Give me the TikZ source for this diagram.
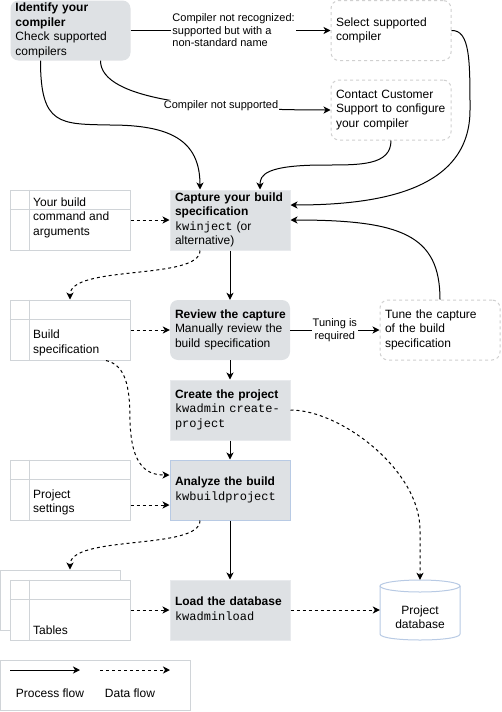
\documentclass[tikz,border=0pt]{standalone}
\usepackage{fontspec}
\setmainfont{Liberation Sans}
\newfontfamily\monof{Liberation Mono}
\usetikzlibrary{arrows.meta,calc}
\definecolor{boxgray}{RGB}{222,225,228}
\definecolor{boxedge}{RGB}{232,234,237}
\definecolor{tblgray}{RGB}{208,212,216}
\definecolor{dashgray}{RGB}{208,208,208}
\definecolor{blueedge}{RGB}{184,202,228}
\newcommand\fsA{\fontsize{12pt}{14.5pt}\selectfont}
\newcommand\fsB{\fontsize{11pt}{12.5pt}\selectfont}
\newcommand\boxlines[1]{\begin{tabular}{@{}l@{}}#1\end{tabular}}
\tikzset{
  box/.style={rectangle, minimum width=120pt, minimum height=60pt, inner xsep=5pt, inner ysep=0pt, text width=110pt, align=left, font=\fsA},
  procround/.style={box, fill=boxgray, rounded corners=8pt},
  procsq/.style={box, fill=boxgray, draw=boxedge, line width=1pt},
  procblue/.style={box, fill=boxgray, draw=blueedge, line width=1pt},
  optbox/.style={box, draw=dashgray, line width=1pt, dash pattern=on 3pt off 3pt, rounded corners=8pt},
  tbl/.style={rectangle, minimum width=120pt, minimum height=60pt, draw=tblgray, fill=white, line width=1pt},
  tblline/.style={draw=tblgray, line width=1pt},
  tbltext/.style={anchor=west, align=left, font=\fsA, inner sep=0pt},
  flow/.style={draw=black, line width=1pt, -{Stealth[length=7pt,width=7pt,inset=2pt]}},
  dflow/.style={flow, dash pattern=on 3pt off 3pt},
  elabel/.style={fill=white, inner sep=1pt, align=left, font=\fsB},
  elabelc/.style={fill=white, inner sep=1pt, align=center, font=\fsB},
}
\begin{document}
\begin{tikzpicture}[x=1pt,y=-1pt]
\useasboundingbox (0,0) rectangle (501,712);

% process nodes
\node[procround] (ident) at (70.5,30.5) {\boxlines{\textbf{Identify your}\\\textbf{compiler}\\Check supported\\compilers}};
\node[optbox] (select) at (391,30.5) {\boxlines{Select supported\\compiler}};
\node[optbox] (contact) at (391,110) {\boxlines{Contact Customer\\Support to configure\\your compiler}};
\node[procsq] (capture) at (230,220) {\boxlines{\textbf{Capture your build}\\\textbf{specification}\\{\monof kwinject} (or\\alternative)}};
\node[procround] (review) at (230,330) {\boxlines{\textbf{Review the capture}\\Manually review the\\build specification}};
\node[optbox] (tune) at (440,330) {\boxlines{Tune the capture\\of the build\\specification}};
\node[procsq] (create) at (230,410) {\boxlines{\textbf{Create the project}\\{\monof kwadmin create-}\\{\monof project}}};
\node[procblue] (analyze) at (230,490) {\boxlines{\textbf{Analyze the build}\\{\monof kwbuildproject}}};
\node[procsq] (load) at (230,610) {\boxlines{\textbf{Load the database}\\{\monof kwadminload}}};

% data tables
\node[tbl] (yb) at (70,220) {};
\draw[tblline] ($(yb.north west)+(20,0)$) -- ($(yb.south west)+(20,0)$);
\draw[tblline] ($(yb.north west)+(0,20)$) -- ($(yb.north east)+(0,20)$);
\node[tbltext] (ybtxt) at (33,217.5) {Your build\\command and\\arguments};

\node[tbl] (bs) at (70,330) {};
\draw[tblline] ($(bs.north west)+(20,0)$) -- ($(bs.south west)+(20,0)$);
\draw[tblline] ($(bs.north west)+(0,20)$) -- ($(bs.north east)+(0,20)$);
\node[tbltext] (bstxt) at (33,343) {Build\\specification};

\node[tbl] (ps) at (70,490) {};
\draw[tblline] ($(ps.north west)+(20,0)$) -- ($(ps.south west)+(20,0)$);
\draw[tblline] ($(ps.north west)+(0,20)$) -- ($(ps.north east)+(0,20)$);
\node[tbltext] (pstxt) at (33,502.5) {Project\\settings};

\node[tbl] (tablesback) at (60,600) {};
\node[tbl] (tables) at (70,610) {};
\draw[tblline] ($(tables.north west)+(20,0)$) -- ($(tables.south west)+(20,0)$);
\draw[tblline] ($(tables.north west)+(0,20)$) -- ($(tables.north east)+(0,20)$);
\node[tbltext] (tbtxt) at (33,630) {Tables};

% database cylinder
\node[rectangle, minimum width=80pt, minimum height=60pt, inner sep=0pt] (db) at (420,610) {};
\path[fill=white] (380,586) -- (380,634) .. controls (380,642) and (460,642) .. (460,634) -- (460,586) -- cycle;
\draw[draw=blueedge, line width=1pt] (380,586) -- (380,634) .. controls (380,642) and (460,642) .. (460,634) -- (460,586);
\draw[draw=blueedge, line width=1pt, fill=white] (420,586) ellipse [x radius=40pt, y radius=6pt];
\node[align=center, font=\fsA, inner sep=0pt] (dbtxt) at (420,617) {Project\\database};

% waypoints
\coordinate (k1) at (110,125);
\coordinate (k2) at (325,165);
\coordinate (k3) at (470,110);
\coordinate (k4) at (130,420);
\coordinate (k5) at (420,530);
\coordinate (tablestop) at ($(tablesback.north)+(10,0)$);

% process flow
\draw[flow] (ident.east) -- node[elabel, xshift=3pt] {Compiler not recognized:\\supported but with a\\non-standard name} (select.west);
\draw[flow] ($(ident.south)+(30,0)$) .. controls +(0,40) and +(-120,0) .. (contact.west);
\node[elabel] (lbl2) at (221,106) {Compiler not supported};
\draw[flow] ($(ident.south)+(-30,0)$) .. controls +(0,65) and (60,124) .. (k1) .. controls (170,125) and (200,140) .. ($(capture.north)+(-30,0)$);
\draw[flow] (contact.south) .. controls +(0,25) and (360,165) .. (k2) .. controls (265,165) and (260,175) .. ($(capture.north)+(30,0)$);
\draw[flow] (select.east) .. controls (470,30) and (470,60) .. (k3) .. controls (470,190) and (380,205) .. ($(capture.east)+(0,-15)$);
\draw[flow] (tune.north) .. controls +(0,-65) and +(110,0) .. (capture.east);
\draw[flow] (capture.south) -- (review.north);
\draw[flow] (review.east) -- node[elabelc] {Tuning is\\required} (tune.west);
\draw[flow] (review.south) -- (create.north);
\draw[flow] (create.south) -- (analyze.north);
\draw[flow] (analyze.south) -- (load.north);

% data flow
\draw[dflow] (yb.east) -- (capture.west);
\draw[dflow] ($(capture.south)+(-30,0)$) .. controls +(0,30) and +(0,-35) .. (bs.north);
\draw[dflow] (bs.east) -- (review.west);
\draw[dflow] ($(bs.south)+(36,0)$) .. controls (125,365) and (130,385) .. (k4) .. controls (131,470) and (150,475) .. ($(analyze.west)+(0,-15)$);
\draw[dflow] ($(ps.east)+(0,15)$) -- ($(analyze.west)+(0,15)$);
\draw[dflow] (create.east) .. controls +(50,0) and (420,470) .. (k5) -- (db.north);
\draw[dflow] ($(analyze.south)+(-30,0)$) .. controls +(0,30) and +(0,-35) .. (tablestop);
\draw[dflow] (tables.east) -- (load.west);
\draw[dflow] (load.east) -- (db.west);

% legend
\node[rectangle, draw=tblgray, line width=1pt, minimum width=190pt, minimum height=50pt, inner sep=0pt] (legend) at (95,685) {};
\coordinate (la) at (10,670);
\coordinate (lb) at (80,670);
\coordinate (lc) at (100,670);
\coordinate (ld) at (170,670);
\draw[flow] (la) -- (lb);
\draw[dflow] (lc) -- (ld);
\node[font=\fsA, inner sep=0pt] (ltxt1) at (50,693) {Process flow};
\node[font=\fsA, inner sep=0pt] (ltxt2) at (130,693) {Data flow};
\end{tikzpicture}
\end{document}
